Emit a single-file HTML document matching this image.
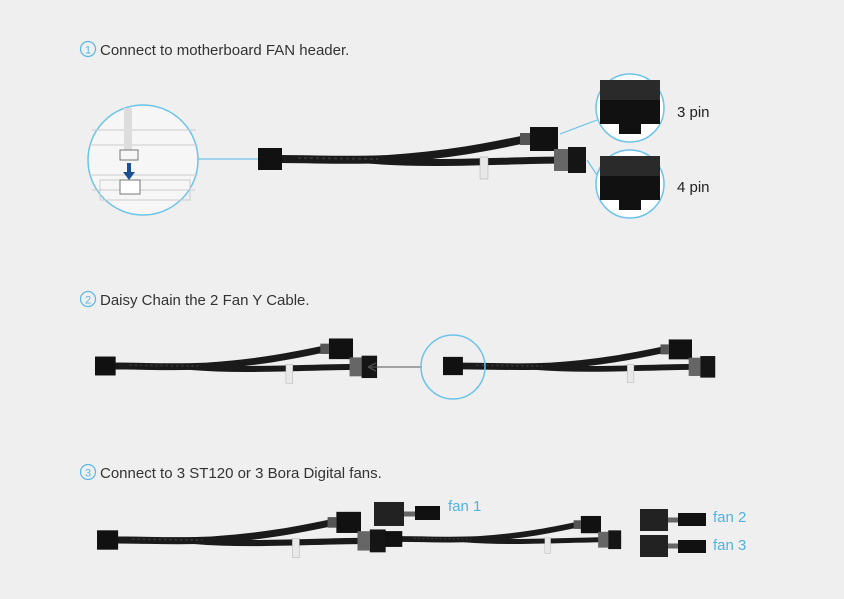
<!DOCTYPE html>
<html><head><meta charset="utf-8"><style>
html,body{margin:0;padding:0;background:#efefef}
svg{display:block}
text{font-family:"Liberation Sans",sans-serif}
</style></head><body>
<svg width="844" height="599" viewBox="0 0 844 599" xmlns="http://www.w3.org/2000/svg">
<defs>
<g id="ycable">
  <path d="M22,0 C60,0 90,2 130,0 C190,-4 230,-12 268,-20" stroke="#1a1a1a" stroke-width="8" fill="none"/>
  <path d="M110,1 C170,6 230,2 300,1" stroke="#1a1a1a" stroke-width="7" fill="none"/>
  <path d="M40,-1 L120,0" stroke="#333" stroke-width="2" stroke-dasharray="3 3" fill="none"/>
  <rect x="0" y="-11" width="24" height="22" fill="#111"/>
  <rect x="222" y="-2" width="8" height="22" fill="#e8e8e8" stroke="#aaa" stroke-width="0.5"/>
  <rect x="262" y="-26" width="10" height="12" fill="#555"/>
  <rect x="272" y="-32" width="28" height="24" fill="#111"/>
  <rect x="296" y="-10" width="14" height="22" fill="#666"/>
  <rect x="310" y="-12" width="18" height="26" fill="#151515"/>
</g>
<g id="conn">
  <rect x="-30" y="-26" width="60" height="20" fill="#2a2a2a"/>
  <rect x="-30" y="-6" width="60" height="24" fill="#111"/>
  <rect x="-11" y="18" width="22" height="10" fill="#111"/>
</g>
</defs>
<g font-size="15" fill="#333">
<circle cx="88" cy="49" r="7.5" fill="none" stroke="#5ab7e6" stroke-width="1.2"/>
<text x="88" y="53.5" font-size="11" fill="#5ab7e6" text-anchor="middle">1</text>
<text x="100" y="55">Connect to motherboard FAN header.</text>
<circle cx="88" cy="299" r="7.5" fill="none" stroke="#5ab7e6" stroke-width="1.2"/>
<text x="88" y="303.5" font-size="11" fill="#5ab7e6" text-anchor="middle">2</text>
<text x="100" y="305">Daisy Chain the 2 Fan Y Cable.</text>
<circle cx="88" cy="472" r="7.5" fill="none" stroke="#5ab7e6" stroke-width="1.2"/>
<text x="88" y="476.5" font-size="11" fill="#5ab7e6" text-anchor="middle">3</text>
<text x="100" y="478">Connect to 3 ST120 or 3 Bora Digital fans.</text>
</g>
<!-- section 1 -->
<circle cx="143" cy="160" r="55" fill="#f6f6f6" stroke="#6cc3ea" stroke-width="1.5"/>
<g stroke="#ccc" stroke-width="1" fill="none">
<path d="M92,130 H196 M90,145 H198 M90,175 H198 M92,190 H195"/>
<rect x="100" y="180" width="90" height="20"/>
</g>
<path d="M128,108 V150" stroke="#ddd" stroke-width="8"/>
<rect x="120" y="150" width="18" height="10" fill="none" stroke="#777"/>
<path d="M129,163 V175" stroke="#1a4f90" stroke-width="4"/>
<path d="M123,172 L129,180 L135,172Z" fill="#1a4f90"/>
<rect x="120" y="180" width="20" height="14" fill="#fff" stroke="#777"/>
<line x1="198" y1="159" x2="258" y2="159" stroke="#6cc3ea" stroke-width="1.2"/>
<use href="#ycable" x="258" y="159"/>
<line x1="560" y1="134" x2="597" y2="120" stroke="#6cc3ea" stroke-width="1.2"/>
<line x1="587" y1="160" x2="597" y2="175" stroke="#6cc3ea" stroke-width="1.2"/>
<circle cx="630" cy="108" r="34" fill="#fff" stroke="#6cc3ea" stroke-width="1.5"/>
<use href="#conn" x="630" y="106"/>
<circle cx="630" cy="184" r="34" fill="#fff" stroke="#6cc3ea" stroke-width="1.5"/>
<use href="#conn" x="630" y="182"/>
<text x="677" y="117" font-size="15" fill="#222">3 pin</text>
<text x="677" y="192" font-size="15" fill="#222">4 pin</text>
<!-- section 2 -->
<use href="#ycable" transform="translate(95,366) scale(0.86)"/>
<use href="#ycable" transform="translate(443,366) scale(0.83)"/>
<line x1="370" y1="367" x2="422" y2="367" stroke="#555" stroke-width="1"/>
<path d="M368,367 L376,363 M368,367 L376,371" stroke="#555" stroke-width="1"/>
<circle cx="453" cy="367" r="32" fill="none" stroke="#6cc3ea" stroke-width="1.5"/>
<!-- section 3 -->
<use href="#ycable" transform="translate(97,540) scale(0.88)"/>
<use href="#ycable" transform="translate(385,539) scale(0.72)"/>
<rect x="374" y="502" width="30" height="24" fill="#222"/>
<path d="M404,514 H415" stroke="#666" stroke-width="5"/><rect x="415" y="506" width="25" height="14" fill="#111"/>
<rect x="640" y="509" width="28" height="22" fill="#222"/>
<path d="M668,520 H678" stroke="#666" stroke-width="5"/><rect x="678" y="513" width="28" height="13" fill="#111"/>
<rect x="640" y="535" width="28" height="22" fill="#222"/>
<path d="M668,546 H678" stroke="#666" stroke-width="5"/><rect x="678" y="540" width="28" height="13" fill="#111"/>
<g font-size="15" fill="#4fb3e0">
<text x="448" y="511">fan 1</text>
<text x="713" y="522">fan 2</text>
<text x="713" y="550">fan 3</text>
</g>
</svg>
</body></html>
